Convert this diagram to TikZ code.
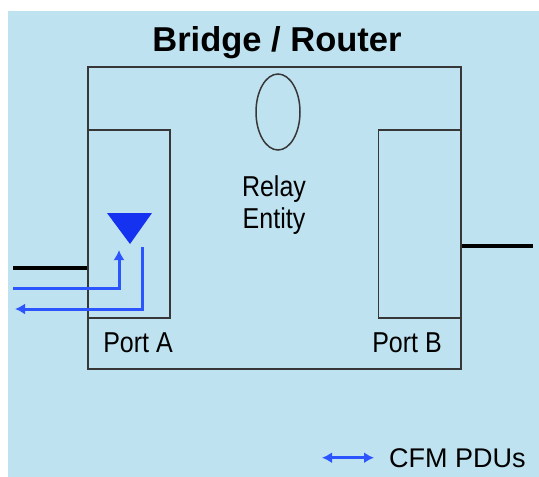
\documentclass[tikz,border=0pt]{standalone}
\usepackage{fontspec}
\setmainfont{Liberation Sans}
\usetikzlibrary{calc}
\usetikzlibrary{arrows.meta,positioning,shapes.geometric}
\definecolor{bgblue}{RGB}{190,226,239}
\definecolor{pdublue}{RGB}{45,85,255}
\definecolor{mepblue}{RGB}{20,50,240}
\definecolor{boxgray}{RGB}{55,55,55}

\begin{document}
\begin{tikzpicture}[x=1pt, y=-1pt]
      % styles
      \tikzstyle{box}=[rectangle,draw=boxgray,inner sep=0pt,line width=2.4pt]
      \tikzstyle{portbox}=[box,line width=1.6pt,minimum width=82pt,minimum height=188pt]
      \tikzstyle{lbl}=[font=\fontsize{25}{28}\selectfont,yscale=1.15,inner sep=0pt,align=center]
      \tikzstyle{pdu}=[pdublue,line width=3pt]
      \tikzstyle{wire}=[black,line width=4pt]

      \useasboundingbox (0,0) rectangle (539,477);
      \fill[bgblue] (8,11) rectangle (539,477);

      % nodes
      \node[box,anchor=north west,minimum width=373pt,minimum height=302pt] (router) at (87,66) {};
      \node[anchor=base,inner sep=0pt,font=\fontsize{34.5}{40}\selectfont\bfseries] (title) at (277,51) {Bridge / Router};
      \node[portbox,anchor=north west] (portA) at ($(router.north west)+(0,63)$) {};
      \node[portbox,anchor=north east,minimum width=83pt] (portB) at ($(router.north east)+(0,63)$) {};
      \node[ellipse,draw=boxgray,line width=1.5pt,minimum width=44pt,minimum height=76pt,inner sep=0pt] (relay) at (278,112) {};
      \node[lbl] (relaytxt) at (274,205) {Relay\\Entity};
      \node[lbl,anchor=base] (labelA) at (138,352) {Port A};
      \node[lbl,anchor=base] (labelB) at (407,352) {Port B};
      \node[anchor=base west,inner sep=0pt,font=\fontsize{27}{30}\selectfont] (cfm) at (389,467) {CFM PDUs};

      % maintenance point
      \coordinate (mep) at (130,244);
      \fill[mepblue] (107,213) -- (152,213) -- (mep) -- cycle;

      % links
      \coordinate (linkA) at (13,268);
      \coordinate (linkB) at (533,246);
      \draw[wire] (linkA) -- (linkA -| router.west);
      \draw[wire] (linkB -| router.east) -- (linkB);

      % CFM PDUs in and out
      \coordinate (pduin) at (13,288);
      \coordinate (pduout) at (15,309);
      \draw[pdu,-{Latex[length=10pt,width=11pt]}] (pduin) -| ($(mep)+(-11,6)$);
      \draw[pdu,-{Latex[length=10pt,width=11pt]}] ($(mep)+(12,3)$) |- (pduout);

      % legend
      \draw[pdu,{Latex[length=10pt,width=11pt]}-{Latex[length=10pt,width=11pt]}]
           ([xshift=-67pt]cfm.west) -- ([xshift=-15pt]cfm.west);
    \end{tikzpicture}
\end{document}
